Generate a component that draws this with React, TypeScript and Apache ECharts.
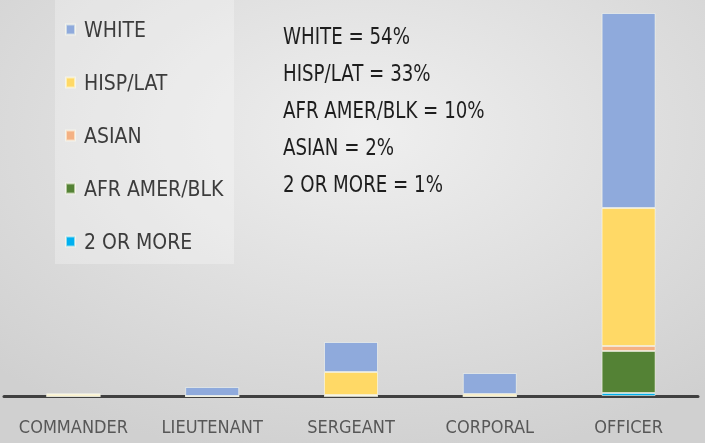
import React, { useEffect, useRef } from "react";
import * as echarts from "echarts";

const categories = ["COMMANDER", "LIEUTENANT", "SERGEANT", "CORPORAL", "OFFICER"];
const twoOrMore = [0, 0, 0, 0, 3];
const afrAmerBlk = [0, 0, 0, 0, 42];
const asian = [0, 0, 1, 0, 5];
const hispLat = [2, 0, 23, 2, 138];
const white = [0, 9, 30, 21, 195];
const legendOrder = ["WHITE", "HISP/LAT", "ASIAN", "AFR AMER/BLK", "2 OR MORE"];
const summaryLines = [
  "WHITE = 54%",
  "HISP/LAT = 33%",
  "AFR AMER/BLK = 10%",
  "ASIAN = 2%",
  "2 OR MORE = 1%",
];

const FONT = '"DejaVu Sans Condensed", "Liberation Sans Narrow", sans-serif';

export default function App() {
  const ref = useRef<HTMLDivElement>(null);
  useEffect(() => {
    if (!ref.current) return;
    const chart = echarts.init(ref.current, undefined, { renderer: "svg" });
    const mk = (name: string, data: number[], color: string) => ({
      name,
      type: "bar",
      stack: "total",
      data,
      barWidth: 54,
      itemStyle: { color, borderColor: "rgba(255,255,240,0.55)", borderWidth: 1 },
    });
    chart.setOption({
      animation: false,
      backgroundColor: {
        type: "radial",
        x: 0.52,
        y: 0.3,
        r: 0.75,
        colorStops: [
          { offset: 0, color: "#efefef" },
          { offset: 1, color: "#d0d0d0" },
        ],
      },
      graphic: [
        {
          type: "rect",
          shape: { x: 55, y: 0, width: 179, height: 264 },
          style: { fill: "rgba(255,255,255,0.28)" },
          z: -1,
        },
        {
          type: "text",
          x: 283,
          y: 18,
          scaleX: 0.88,
          style: {
            text: summaryLines.join("\n"),
            fontFamily: FONT,
            fontSize: 23,
            lineHeight: 37,
            fill: "#1e1e1e",
          },
        },
      ],
      legend: {
        orient: "vertical",
        left: 60,
        top: 14,
        data: legendOrder,
        icon: "rect",
        itemWidth: 9,
        itemHeight: 10,
        itemGap: 32,
        textStyle: {
          fontFamily: FONT,
          fontSize: 21,
          lineHeight: 21,
          color: "#3c3c3c",
          padding: [0, 0, 0, 4],
        },
      },
      grid: { left: 4, right: 7, top: 6, bottom: 47, containLabel: false },
      xAxis: {
        type: "category",
        data: categories,
        axisLine: { lineStyle: { color: "#404040", width: 3 } },
        axisTick: { show: false },
        axisLabel: {
          interval: 0,
          fontFamily: FONT,
          fontSize: 18,
          color: "#575757",
          margin: 21,
        },
      },
      yAxis: {
        type: "value",
        min: 0,
        max: 390,
        show: false,
        splitLine: { show: false },
      },
      series: [
        mk("2 OR MORE", twoOrMore, "#00b0f0"),
        mk("AFR AMER/BLK", afrAmerBlk, "#548235"),
        mk("ASIAN", asian, "#f4b183"),
        mk("HISP/LAT", hispLat, "#ffd966"),
        mk("WHITE", white, "#8faadc"),
      ],
    });
    return () => chart.dispose();
  }, []);
  return (
    <div
      ref={ref}
      style={{ position: "fixed", left: 0, top: 0, width: 705, height: 443 }}
    />
  );
}
